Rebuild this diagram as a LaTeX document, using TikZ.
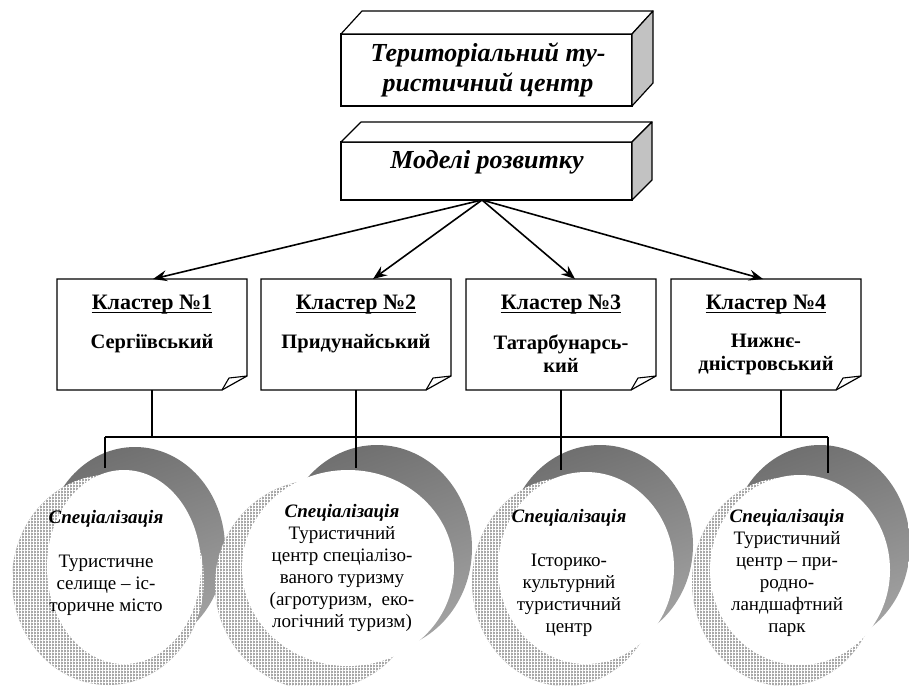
\documentclass[tikz,border=0pt]{standalone}
\usepackage{fontspec}
\setmainfont{Liberation Serif}
\usetikzlibrary{arrows.meta,shapes.geometric,patterns,patterns.meta,calc}
\tikzset{
 conn/.style={line width=1.6pt},
 arr/.style={line width=1.6pt, -{Stealth[length=14pt,width=11pt,inset=5pt]}},
 front/.style={draw, line width=1.2pt, fill=white, minimum width=291pt, inner sep=0pt, outer sep=0pt},
 topface/.style={draw, line width=1.2pt, fill=white, line join=round},
 sideface/.style={draw, line width=1.2pt, fill=black!24, line join=round},
 hdtext/.style={font=\fontsize{26}{30}\selectfont\bfseries\itshape, align=center, inner sep=0pt},
 clnode/.style={minimum width=190pt, minimum height=111pt, inner sep=0pt, outer sep=0pt},
 clbox/.style={draw, line width=1.2pt, fill=white, line join=miter},
 cltitle/.style={font=\fontsize{22}{23}\selectfont\bfseries, inner sep=0pt},
 clbody/.style={font=\fontsize{20.5}{23}\selectfont\bfseries, align=center, inner sep=0pt},
 graysh/.style={top color=black!56, bottom color=black!36, shading angle=20},
 hatch/.style={preaction={fill=black!34},
   postaction={pattern={Lines[angle=0,distance=3pt,line width=0.6pt]}, pattern color=white},
   postaction={pattern={Lines[angle=90,distance=3pt,line width=0.6pt]}, pattern color=white}},
 wcirc/.style={ellipse, fill=white, inner sep=0pt, outer sep=0pt},
 ctext/.style={font=\fontsize{19}{22}\selectfont, align=center, inner sep=0pt},
}
\begin{document}
\begin{tikzpicture}[x=1pt,y=-1pt]
\useasboundingbox[fill=white] (0,0) rectangle (909,685);

% ---- specialisation circles
\foreach \gx/\gy/\ga/\gb/\hx/\hy/\ha/\hb in {
  135/548/90/101/108/580/96/105,
  377/548/95/103/318/585/103/105,
  600/545/93/100/565/582/93/104,
  820/545/90/100/785/582/93/104}{
  \shade[graysh] (\gx,\gy) ellipse [x radius=\ga, y radius=\gb];
  \path[hatch] (\hx,\hy) ellipse [x radius=\ha, y radius=\hb];
}
\node[wcirc, minimum width=154pt, minimum height=194pt] (w1) at (124,567) {};
\node[wcirc, minimum width=212pt, minimum height=196pt] (w2) at (348,568) {};
\node[wcirc, minimum width=176pt, minimum height=192pt] (w3) at (586,568) {};
\node[wcirc, minimum width=180pt, minimum height=190pt] (w4) at (800,570) {};

\node[ctext, anchor=base] (s1) at (106,611) {\textbf{\textit{Спеціалізація}}\\[22pt]Туристичне\\селище – іс-\\торичне місто};
\node[ctext, anchor=base] (s2) at (342,627) {\textbf{\textit{Спеціалізація}}\\Туристичний\\центр спеціалізо-\\ваного туризму\\(агротуризм,~ еко-\\логічний туризм)};
\node[ctext, anchor=base] (s3) at (569,632) {\textbf{\textit{Спеціалізація}}\\[22pt]Історико-\\культурний\\туристичний\\центр};
\node[ctext, anchor=base] (s4) at (787,632) {\textbf{\textit{Спеціалізація}}\\Туристичний\\центр – при-\\родно-\\ландшафтний\\парк};

% ---- top 3D boxes
\node[front, minimum height=72pt] (b1) at (486.5,70) {};
\draw[topface] (b1.north west) -- ++(21,-23) -- ++(291,0) -- (b1.north east) -- cycle;
\draw[sideface] (b1.north east) -- ++(21,-23) -- ++(0,72) -- (b1.south east) -- cycle;
\node[hdtext, anchor=base] (t1) at (488,91) {Територіальний ту-\\ристичний центр};

\node[front, minimum height=58pt] (b2) at (486.5,171) {};
\draw[topface] (b2.north west) -- ++(20,-20) -- ++(291,0) -- (b2.north east) -- cycle;
\draw[sideface] (b2.north east) -- ++(20,-20) -- ++(0,58) -- (b2.south east) -- cycle;
\node[hdtext, anchor=base] (t2) at (487,168) {Моделі розвитку};

% ---- cluster boxes
\foreach \i/\x in {1/152,2/356,3/561,4/766}{
  \node[clnode] (c\i) at (\x,334.5) {};
  \draw[clbox] (c\i.north west) -- (c\i.north east) -- ([yshift=14pt]c\i.south east)
     -- ([xshift=-25pt]c\i.south east) -- (c\i.south west) -- cycle;
  \draw[line width=1.1pt, line join=round] ([xshift=-25pt]c\i.south east)
     .. controls ([xshift=-22pt,yshift=6pt]c\i.south east) .. ([xshift=-18pt,yshift=12pt]c\i.south east)
     -- ([yshift=14pt]c\i.south east);
}
\foreach \i/\x/\t in {1/152/Кластер №1,2/356/Кластер №2,3/561/Кластер №3,4/766/Кластер №4}{
  \node[cltitle, anchor=base] (ct\i) at (\x,309) {\t};
  \draw[line width=1.4pt] ([yshift=-3.5pt]ct\i.base west) -- ([yshift=-3.5pt]ct\i.base east);
}
\node[clbody, anchor=base] (cb1) at (152,348) {Сергіївський};
\node[clbody, anchor=base] (cb2) at (356,348) {Придунайський};
\node[clbody, anchor=base] (cb3) at (561,372) {Татарбунарсь-\\кий};
\node[clbody, anchor=base] (cb4) at (766,370) {Нижнє-\\дністровський};

% ---- arrows
\coordinate (src) at ([xshift=-4.5pt]b2.south);
\draw[arr] (src) -- ([xshift=1pt]c1.north);
\draw[arr] (src) -- ([xshift=17pt]c2.north);
\draw[arr] (src) -- ([xshift=14pt]c3.north);
\draw[arr] (src) -- ([xshift=-3pt]c4.north);

% ---- connectors to circles
\coordinate (busL) at (105,437);
\coordinate (busR) at (828,437);
\draw[conn] (busL) -- (busR);
\draw[conn] (c1.south) -- (c1.south |- busL);
\draw[conn] ([xshift=15pt]c4.south) -- ([xshift=15pt]c4.south |- busR);
\draw[conn, shorten >=2pt] (busL) -- (busL |- w1.north);
\draw[conn, shorten >=2pt] (busR) -- (busR |- w4.north);
\draw[conn, shorten >=2pt] (c2.south) -- (c2.south |- w2.north);
\draw[conn, shorten >=2pt] (c3.south) -- (c3.south |- w3.north);
\end{tikzpicture}
\end{document}
